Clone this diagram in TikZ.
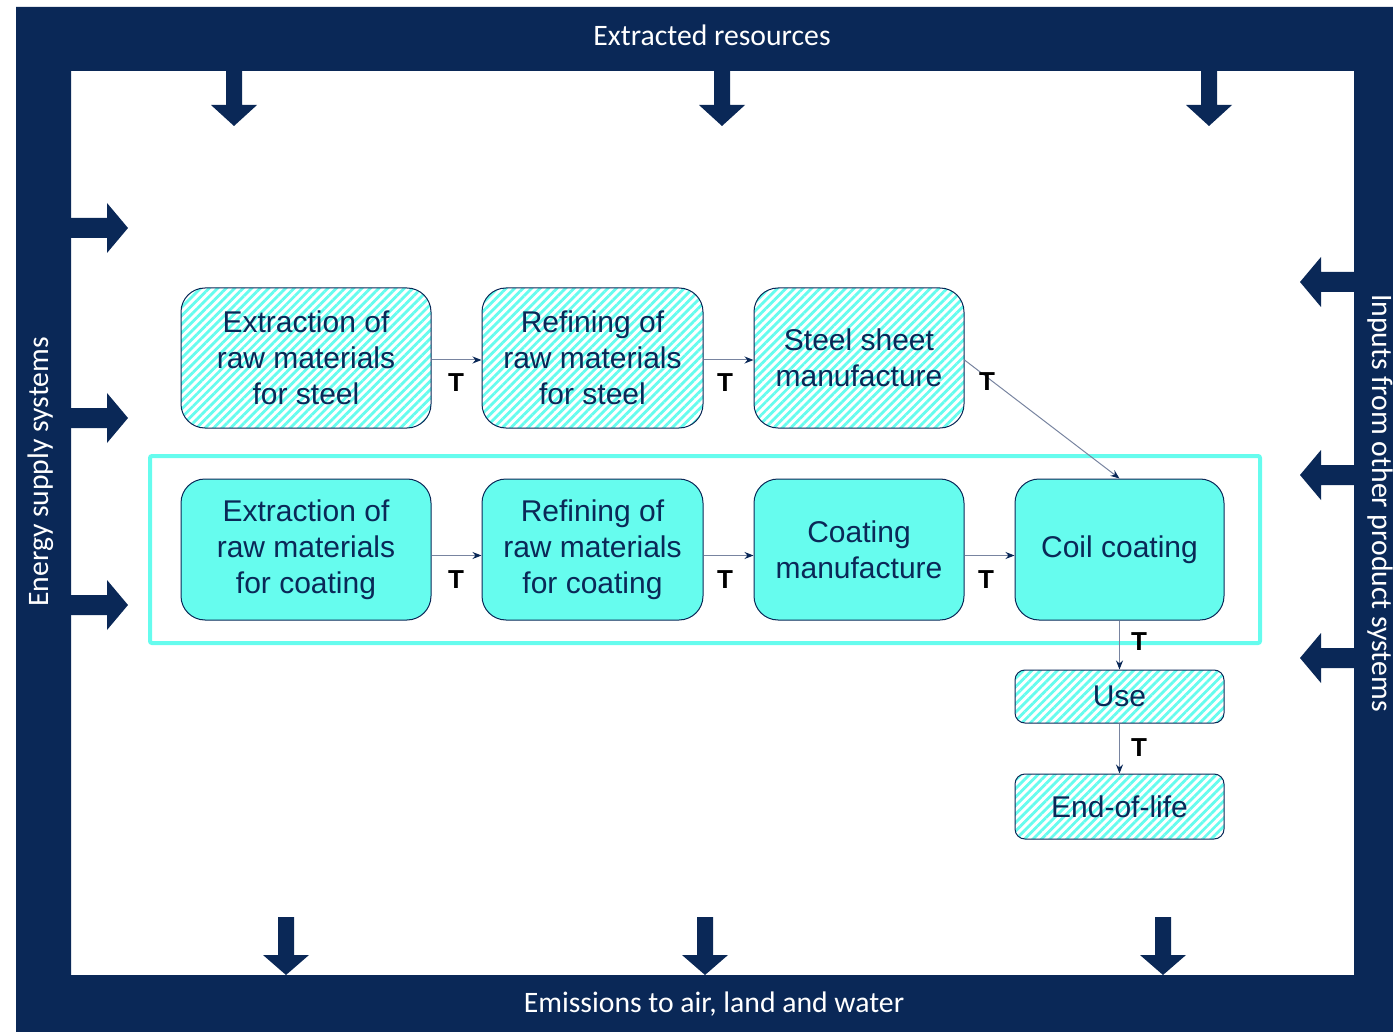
\documentclass[tikz,border=0pt]{standalone}
\usepackage{fontspec}
\newfontfamily\boxfont{Liberation Sans}
\newfontfamily\bandfont{Carlito}
\usetikzlibrary{arrows.meta,patterns.meta}

\definecolor{navy}{RGB}{10,40,87}
\definecolor{aqua}{RGB}{102,252,238}
\definecolor{linkgray}{RGB}{120,132,160}

\tikzset{
  stage/.style={draw=navy, line width=1pt, rounded corners=24pt, align=center, text=navy,
    font=\boxfont\fontsize{30}{36}\selectfont, inner sep=0pt},
  stagefill/.style={stage, fill=aqua},
  stagehatch/.style={stage, pattern={Lines[angle=45,distance=6pt,line width=2.8pt]}, pattern color=aqua},
  flow/.style={draw=linkgray, line width=1pt, -{Stealth[length=9pt,width=7pt,color=navy]}},
  tlabel/.style={font=\boxfont\bfseries\fontsize{26}{26}\selectfont, text=black, inner sep=0pt},
  bandtext/.style={text=white, font=\bandfont\fontsize{29.7}{31}\selectfont, inner sep=0pt},
}

% block arrows of the frame
\newcommand{\arrowdown}[4]{\fill[navy] ({#1-8},#2) -- ({#1+8},#2) -- ({#1+8},#3) -- ({#1+23},#3) -- (#1,#4) -- ({#1-23},#3) -- ({#1-8},#3) -- cycle;}
\newcommand{\arrowside}[4]{\fill[navy] (#2,{#1-10}) -- (#3,{#1-10}) -- (#3,{#1-25}) -- (#4,#1) -- (#3,{#1+25}) -- (#3,{#1+10}) -- (#2,{#1+10}) -- cycle;}

\begin{document}
\begin{tikzpicture}[x=1pt,y=-1pt]
  \useasboundingbox (0,0) rectangle (1393,1032);

  % Drawing system frame
  \fill[navy, even odd rule] (16,7) rectangle (1393,1032) (71,71) rectangle (1354,975);
  \node[bandtext] (extr) at (712,35) {Extracted resources};
  \node[bandtext] (emis) at (714,1004) {Emissions to air, land and water};
  \node[bandtext, rotate=90] (energy) at (41,472) {Energy supply systems};
  \node[bandtext, rotate=-90] (inputs) at (1380,503) {Inputs from other product systems};

  % Drawing frame arrows
  \foreach \x in {234,722,1209} {\arrowdown{\x}{71}{105}{126}}
  \foreach \x in {286,705,1163} {\arrowdown{\x}{917}{955}{975}}
  \foreach \y in {228,418,605} {\arrowside{\y}{71}{107}{128}}
  \foreach \y in {282,475,658} {\arrowside{\y}{1354}{1321}{1300}}

  % Drawing coating group
  \draw[aqua, line width=4pt, rounded corners=2pt] (150,456) rectangle (1260,643);

  % Drawing steel chain
  \node[stagehatch, minimum width=250pt, minimum height=140pt] (exs) at (306,358) {Extraction of\\raw materials\\for steel};
  \node[stagehatch, minimum width=221pt, minimum height=140pt] (refs) at (592.5,358) {Refining of\\raw materials\\for steel};
  \node[stagehatch, minimum width=210pt, minimum height=140pt] (shm) at (859,358) {Steel sheet\\manufacture};

  % Drawing coating chain
  \node[stagefill, minimum width=250pt, minimum height=141pt] (exc) at (306,549.5) {Extraction of\\raw materials\\for coating};
  \node[stagefill, minimum width=221pt, minimum height=141pt] (refc) at (592.5,549.5) {Refining of\\raw materials\\for coating};
  \node[stagefill, minimum width=210pt, minimum height=141pt] (cman) at (859,549.5) {Coating\\manufacture};
  \node[stagefill, minimum width=209pt, minimum height=141pt] (coil) at (1119.5,549.5) {Coil coating};

  % Drawing use and end of life
  \node[stagehatch, rounded corners=10pt, minimum width=209pt, minimum height=53pt] (use) at (1119.5,696.5) {Use};
  \node[stagehatch, rounded corners=10pt, minimum width=209pt, minimum height=65pt] (eol) at (1119.5,806.5) {End-of-life};

  % Drawing transports
  \draw[flow] ([yshift=-2pt]exs.east) -- ([yshift=-2pt]refs.west);
  \draw[flow] ([yshift=-2pt]refs.east) -- ([yshift=-2pt]shm.west);
  \draw[flow] ([yshift=-2pt]shm.east) -- (coil.north);
  \draw[flow] ([yshift=-6pt]exc.east) -- ([yshift=-6pt]refc.west);
  \draw[flow] ([yshift=-6pt]refc.east) -- ([yshift=-6pt]cman.west);
  \draw[flow] ([yshift=-6pt]cman.east) -- ([yshift=-6pt]coil.west);
  \draw[flow] (coil.south) -- (use.north);
  \draw[flow] (use.south) -- (eol.north);

  % Marking transports by T
  \node[tlabel] (t1) at (456,383) {T};
  \node[tlabel] (t2) at (725,383) {T};
  \node[tlabel] (t3) at (987,382) {T};
  \node[tlabel] (t4) at (456,580) {T};
  \node[tlabel] (t5) at (725,580) {T};
  \node[tlabel] (t6) at (986,580) {T};
  \node[tlabel] (t7) at (1139,642) {T};
  \node[tlabel] (t8) at (1139,748) {T};
\end{tikzpicture}
\end{document}
